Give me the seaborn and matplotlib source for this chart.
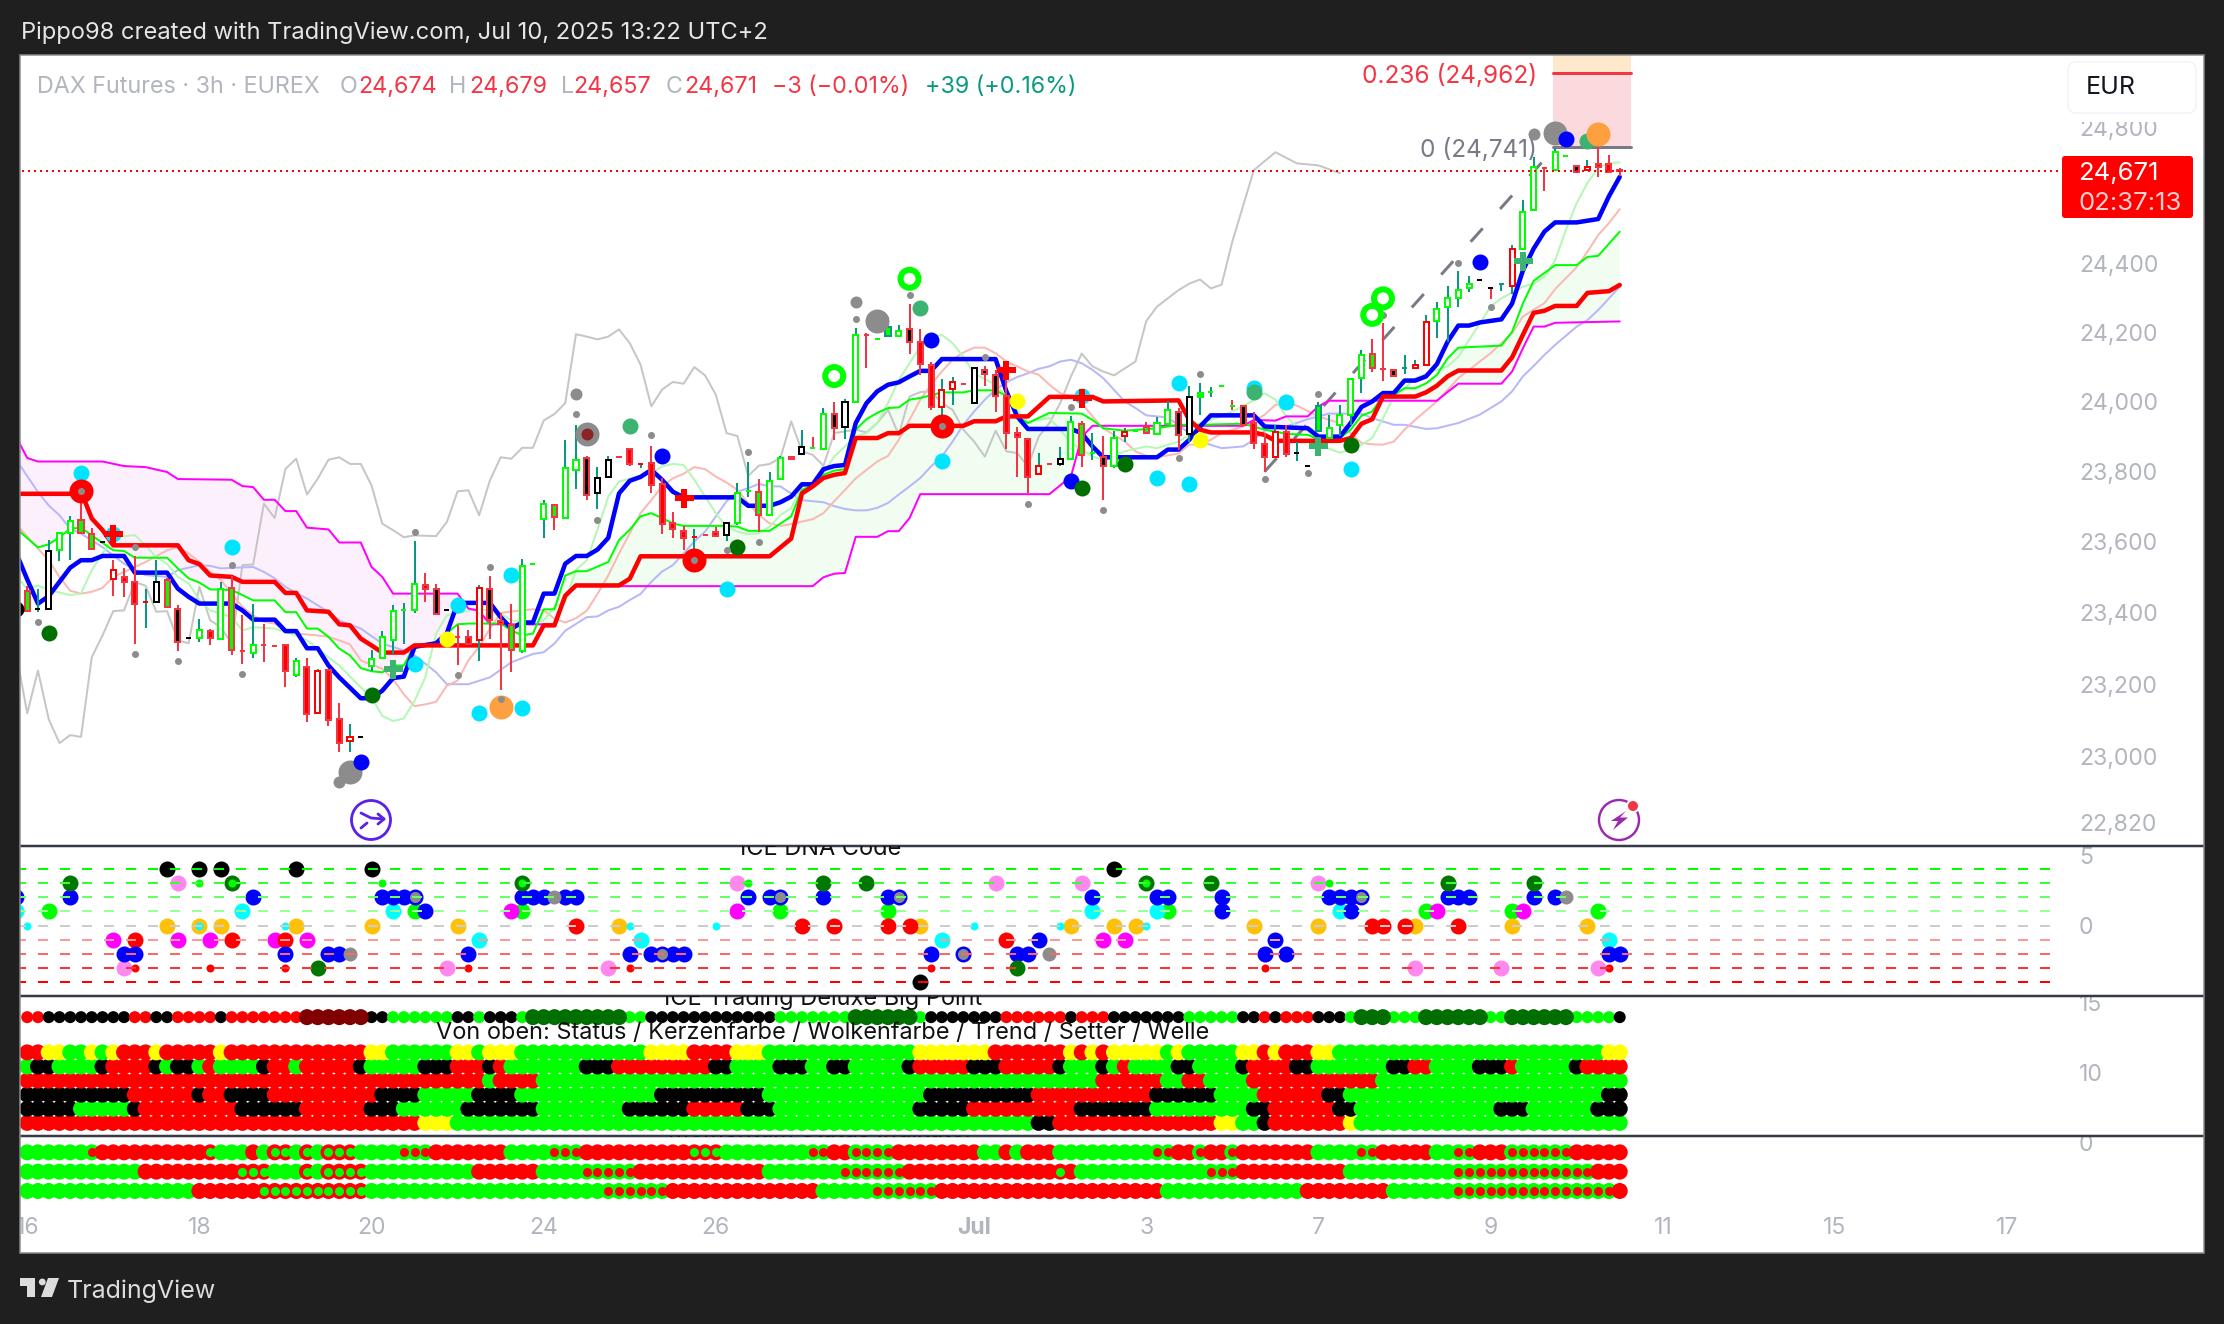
import numpy as np
import pandas as pd
import matplotlib
matplotlib.use("Agg")
import matplotlib.pyplot as plt
import seaborn as sns
from matplotlib.patches import Rectangle, Polygon, Circle, FancyBboxPatch

# Candles, one value per 3h bar
wick_top = [
    23476, 23466, 23606, 23628, 23672, 23741, 23640, 23600, 23548, 23525,
    23559, 23466, 23550, 23497, 23421, 23329, 23384, 23356, 23488, 23503,
    23393, 23426, 23368, 23307, 23310, 23275, 23275, 23244, 23241, 23149,
    23090, 23056, 23295, 23348, 23421, 23429, 23601, 23513, 23480, 23407,
    23365, 23351, 23478, 23503, 23399, 23426, 23552, 23537, 23718, 23708,
    23890, 23933, 23844, 23812, 23844, 23842, 23866, 23821, 23873, 23780,
    23683, 23645, 23635, 23619, 23643, 23654, 23766, 23827, 23777, 23797,
    23845, 23842, 23919, 23897, 23981, 23998, 24007, 24211, 24198, 24180,
    24245, 24220, 24282, 24208, 24115, 24064, 24070, 24051, 24095, 24101,
    24091, 24076, 23926, 23892, 23852, 23821, 23869, 23957, 23943, 23909,
    23901, 23914, 23923, 23916, 23940, 23954, 24000, 23981, 24045, 24053,
    24041, 24045, 24005, 23986, 23969, 23909, 23931, 23931, 23885, 23816,
    23998, 23960, 23990, 24064, 24147, 24180, 24226, 24090, 24134, 24120,
    24250, 24286, 24333, 24377, 24363, 24351, 24328, 24343, 24453, 24587,
    24713, 24679, 24740, 24715, 24686, 24705, 24745, 24720, 24679]
body_top = [
    23462, 23410, 23574, 23625, 23659, 23663, 23621, 23600, 23520, 23501,
    23487, 23430, 23487, 23492, 23412, 23329, 23351, 23350, 23466, 23470,
    23292, 23310, 23309, 23307, 23310, 23266, 23250, 23237, 23241, 23105,
    23056, 23056, 23271, 23333, 23405, 23407, 23480, 23478, 23466, 23407,
    23333, 23333, 23470, 23466, 23377, 23365, 23532, 23537, 23706, 23703,
    23809, 23833, 23837, 23782, 23833, 23842, 23863, 23821, 23825, 23763,
    23652, 23631, 23614, 23619, 23627, 23654, 23739, 23745, 23742, 23773,
    23839, 23842, 23868, 23866, 23963, 23965, 23997, 24192, 24191, 24180,
    24216, 24204, 24208, 24172, 24105, 24033, 24055, 24051, 24095, 24091,
    24075, 24016, 23909, 23892, 23814, 23821, 23835, 23940, 23936, 23851,
    23842, 23896, 23913, 23916, 23928, 23938, 23974, 23970, 24012, 24024,
    24026, 24045, 23988, 23986, 23938, 23877, 23913, 23913, 23853, 23816,
    23986, 23924, 23960, 24064, 24135, 24138, 24092, 24090, 24097, 24106,
    24230, 24267, 24299, 24323, 24339, 24351, 24328, 24340, 24442, 24551,
    24683, 24679, 24727, 24715, 24686, 24683, 24692, 24692, 24674]
body_bot = [
    23404, 23410, 23412, 23576, 23626, 23625, 23581, 23600, 23494, 23488,
    23426, 23430, 23430, 23417, 23318, 23329, 23331, 23329, 23328, 23297,
    23292, 23289, 23309, 23307, 23237, 23227, 23117, 23120, 23101, 23037,
    23043, 23056, 23252, 23274, 23325, 23407, 23409, 23468, 23397, 23407,
    23333, 23314, 23323, 23379, 23368, 23295, 23292, 23537, 23664, 23670,
    23666, 23804, 23734, 23737, 23783, 23842, 23821, 23821, 23761, 23649,
    23635, 23612, 23614, 23619, 23617, 23618, 23654, 23745, 23676, 23675,
    23777, 23835, 23849, 23866, 23863, 23923, 23926, 23999, 24191, 24180,
    24188, 24189, 24171, 24107, 23984, 23985, 24036, 24051, 23995, 24078,
    24016, 23909, 23898, 23785, 23792, 23821, 23820, 23835, 23847, 23851,
    23814, 23814, 23902, 23916, 23909, 23907, 23936, 23904, 23907, 24014,
    24026, 24045, 23988, 23933, 23881, 23842, 23842, 23848, 23853, 23816,
    23914, 23895, 23931, 23962, 24068, 24097, 24092, 24073, 24097, 24095,
    24105, 24231, 24273, 24299, 24327, 24351, 24328, 24340, 24335, 24443,
    24556, 24679, 24674, 24715, 24669, 24673, 24683, 24668, 24671]
wick_bot = [
    23404, 23402, 23412, 23546, 23548, 23625, 23578, 23600, 23447, 23445,
    23312, 23359, 23430, 23415, 23293, 23329, 23318, 23309, 23328, 23281,
    23257, 23274, 23262, 23307, 23192, 23220, 23095, 23117, 23085, 23013,
    23013, 23056, 23239, 23274, 23285, 23312, 23399, 23431, 23395, 23407,
    23254, 23312, 23266, 23328, 23186, 23234, 23288, 23537, 23611, 23633,
    23666, 23750, 23718, 23694, 23783, 23842, 23814, 23809, 23739, 23622,
    23612, 23578, 23576, 23619, 23617, 23602, 23648, 23728, 23629, 23675,
    23777, 23835, 23849, 23866, 23863, 23890, 23893, 23999, 24097, 24180,
    24188, 24189, 24138, 24077, 23976, 23956, 23989, 24051, 23995, 24045,
    23969, 23864, 23785, 23737, 23792, 23821, 23814, 23835, 23811, 23833,
    23718, 23809, 23885, 23916, 23909, 23907, 23936, 23861, 23885, 23961,
    24014, 24045, 23974, 23931, 23865, 23799, 23842, 23842, 23828, 23816,
    23914, 23895, 23900, 23933, 24023, 24085, 24060, 24073, 24079, 24095,
    24105, 24184, 24172, 24274, 24317, 24351, 24296, 24319, 24310, 24443,
    24556, 24611, 24674, 24715, 24669, 24673, 24653, 24666, 24657]
candle_kind = ("lKKGGllKhr" "rRKlkKGrGl" "rGrrrGrRrr" "RKGGGGGrkK" "rrRkrlGGGl"
               "GGkKKrrRrr" "rrRrrKGGlG" "GrKgGkKGrG" "TGkrrRRrKk" "krrrRrKGlG"
               "kGRGlGGkKL" "GGgkrrRrKK" "TGGGGlrkTR" "RGGGGKbTRG" "GrGGkRrrr")

# Indicator lines as (bar, price) vertices
blue_line = [(-1, 23567), (0, 23494), (1, 23426), (2, 23447), (3, 23487), (4, 23527), (5, 23548), (6, 23548),
             (7, 23560), (9, 23560), (10, 23513), (13, 23513), (14, 23468), (15, 23445), (16, 23426), (19, 23426),
             (20, 23407), (21, 23381), (23, 23381), (24, 23349), (25, 23349), (26, 23301), (27, 23301), (28, 23253),
             (29, 23220), (31, 23162), (32, 23162), (33, 23183), (34, 23218), (35, 23222), (36, 23305), (38, 23315),
             (39, 23343), (40, 23428), (43, 23428), (44, 23388), (45, 23356), (46, 23373), (47, 23373), (48, 23454),
             (49, 23454), (50, 23538), (51, 23560), (52, 23560), (53, 23578), (54, 23611), (55, 23737), (56, 23773),
             (57, 23784), (58, 23804), (59, 23776), (60, 23742), (61, 23726), (66, 23726), (67, 23702), (69, 23702),
             (70, 23712), (71, 23728), (72, 23763), (73, 23763), (74, 23806), (75, 23815), (76, 23818), (77, 23938),
             (78, 23995), (79, 24029), (80, 24048), (81, 24055), (82, 24072), (83, 24088), (84, 24088), (85, 24122),
             (90, 24122), (91, 24029), (92, 23957), (93, 23921), (97, 23921), (98, 23909), (99, 23871), (100, 23840),
             (105, 23840), (106, 23862), (107, 23862), (108, 23890), (109, 23928), (110, 23960), (114, 23960),
             (115, 23928), (119, 23923), (120, 23899), (122, 23899), (123, 23938), (124, 23984), (125, 24000),
             (126, 24024), (127, 24024), (128, 24060), (129, 24060), (130, 24072), (131, 24107), (132, 24172),
             (133, 24219), (134, 24219), (135, 24228), (137, 24237), (138, 24283), (139, 24379), (140, 24443),
             (141, 24493), (142, 24520), (144, 24520), (145, 24525), (146, 24530), (147, 24597), (148, 24654)]
red_line = [(-1, 23736), (4, 23736), (5, 23743), (6, 23666), (7, 23633), (8, 23590), (14, 23590), (15, 23548),
            (16, 23537), (17, 23505), (19, 23501), (20, 23487), (23, 23487), (24, 23456), (25, 23456), (26, 23407),
            (28, 23403), (29, 23368), (30, 23365), (31, 23328), (32, 23309), (33, 23289), (35, 23289), (36, 23309),
            (47, 23309), (48, 23365), (49, 23365), (50, 23448), (51, 23477), (55, 23477), (56, 23496), (57, 23559),
            (69, 23559), (71, 23609), (72, 23737), (73, 23757), (74, 23781), (75, 23790), (76, 23795), (77, 23895),
            (79, 23895), (80, 23909), (81, 23909), (82, 23930), (87, 23930), (88, 23943), (90, 23943), (91, 23957),
            (93, 23957), (95, 24013), (99, 24013), (100, 24000), (107, 24003), (108, 23947), (109, 23919),
            (110, 23911), (114, 23911), (115, 23904), (116, 23887), (122, 23887), (123, 23895), (124, 23936),
            (125, 23949), (126, 24014), (129, 24014), (130, 24026), (131, 24045), (132, 24072), (133, 24089),
            (137, 24089), (138, 24127), (139, 24192), (140, 24256), (141, 24262), (142, 24276), (144, 24276),
            (145, 24314), (147, 24319), (148, 24337)]
lime_line = [(-1, 23637), (1, 23584), (2, 23593), (3, 23613), (4, 23637), (5, 23640), (6, 23618), (8, 23576),
             (9, 23574), (10, 23555), (13, 23555), (14, 23525), (15, 23497), (16, 23485), (17, 23466), (19, 23464),
             (20, 23450), (21, 23435), (23, 23435), (24, 23402), (25, 23402), (26, 23356), (27, 23356), (28, 23333),
             (29, 23300), (30, 23281), (31, 23246), (32, 23237), (33, 23234), (34, 23253), (35, 23253), (36, 23309),
             (38, 23315), (39, 23343), (40, 23368), (41, 23370), (44, 23370), (45, 23351), (46, 23337), (47, 23342),
             (48, 23410), (49, 23410), (50, 23505), (51, 23517), (52, 23517), (54, 23543), (55, 23605), (56, 23634),
             (57, 23672), (58, 23681), (59, 23667), (60, 23652), (61, 23645), (65, 23645), (66, 23643), (67, 23631),
             (69, 23631), (71, 23672), (72, 23747), (73, 23761), (74, 23790), (75, 23802), (76, 23806), (77, 23919),
             (78, 23949), (79, 23967), (80, 23981), (81, 23983), (82, 24005), (83, 24010), (85, 24026), (87, 24026),
             (88, 24032), (90, 24032), (91, 24016), (92, 23957), (93, 23938), (95, 23967), (98, 23965), (99, 23947),
             (100, 23923), (102, 23916), (105, 23923), (107, 23933), (109, 23933), (113, 23936), (115, 23919),
             (117, 23907), (119, 23904), (120, 23892), (122, 23895), (123, 23919), (124, 23959), (125, 23971),
             (126, 24016), (127, 24019), (128, 24038), (129, 24038), (130, 24052), (131, 24076), (132, 24124),
             (133, 24155), (137, 24161), (138, 24201), (139, 24283), (140, 24349), (142, 24395), (144, 24395),
             (145, 24419), (146, 24422), (148, 24493)]
magenta_line = [(-1, 23897), (0, 23838), (1, 23828), (7, 23828), (9, 23815), (11, 23812), (13, 23798), (14, 23778),
                (19, 23776), (20, 23758), (21, 23755), (22, 23719), (23, 23719), (24, 23687), (25, 23687), (26, 23640),
                (28, 23635), (29, 23598), (31, 23598), (32, 23529), (33, 23501), (34, 23454), (40, 23454), (41, 23412),
                (42, 23406), (43, 23368), (49, 23368), (50, 23450), (51, 23475), (73, 23475), (74, 23500), (75, 23510),
                (76, 23512), (77, 23614), (79, 23614), (80, 23630), (81, 23630), (82, 23667), (83, 23735), (95, 23735),
                (97, 23785), (98, 23898), (99, 23930), (113, 23930), (114, 23947), (116, 23945), (117, 23957),
                (119, 23957), (120, 23986), (121, 24002), (131, 24002), (132, 24027), (133, 24051), (137, 24051),
                (138, 24086), (139, 24153), (140, 24216), (141, 24216), (142, 24227), (148, 24231)]
faded_lime = [(-1, 23501), (0, 23468), (1, 23477), (2, 23464), (4, 23450), (5, 23454), (6, 23520), (7, 23567),
              (8, 23612), (10, 23619), (11, 23590), (12, 23557), (13, 23538), (14, 23501), (15, 23483), (16, 23436),
              (17, 23407), (19, 23388), (20, 23351), (21, 23360), (23, 23356), (25, 23337), (26, 23323), (28, 23276),
              (29, 23253), (31, 23192), (32, 23165), (33, 23113), (34, 23099), (35, 23106), (36, 23155), (37, 23220),
              (38, 23342), (39, 23393), (42, 23412), (44, 23398), (45, 23379), (47, 23365), (48, 23379), (49, 23417),
              (50, 23430), (51, 23520), (52, 23548), (53, 23634), (54, 23728), (55, 23771), (58, 23795), (59, 23814),
              (60, 23821), (61, 23818), (62, 23776), (63, 23728), (64, 23681), (65, 23643), (66, 23629), (67, 23622),
              (68, 23624), (69, 23643), (70, 23676), (71, 23695), (72, 23757), (73, 23766), (74, 23795), (75, 23842),
              (76, 23871), (77, 23899), (78, 23909), (79, 23938), (80, 23995), (81, 24062), (82, 24110), (83, 24158),
              (84, 24185), (85, 24192), (86, 24168), (87, 24129), (88, 24081), (90, 24048), (91, 24014), (92, 23976),
              (93, 23941), (95, 23952), (96, 23919), (97, 23881), (98, 23862), (99, 23842), (100, 23833), (102, 23857),
              (104, 23871), (105, 23866), (107, 23885), (108, 23904), (109, 23938), (111, 23957), (113, 23986),
              (115, 24023), (116, 24005), (117, 23957), (118, 23928), (119, 23919), (120, 23876), (122, 23853),
              (123, 23862), (124, 23876), (125, 23895), (126, 23952), (127, 24014), (128, 24038), (129, 24067),
              (131, 24091), (132, 24101), (133, 24129), (134, 24177), (135, 24225), (136, 24274), (137, 24298),
              (139, 24332), (140, 24340), (141, 24361), (142, 24409), (143, 24498), (144, 24577), (145, 24636),
              (146, 24681), (147, 24695), (148, 24697)]
faded_red = [(-1, 23649), (1, 23581), (2, 23548), (3, 23501), (4, 23462), (5, 23454), (6, 23459), (7, 23470),
             (8, 23501), (9, 23515), (10, 23529), (11, 23543), (13, 23576), (14, 23585), (15, 23567), (16, 23543),
             (17, 23515), (18, 23492), (19, 23454), (20, 23417), (21, 23393), (22, 23375), (23, 23370), (24, 23351),
             (25, 23342), (27, 23337), (28, 23333), (29, 23323), (30, 23312), (31, 23267), (33, 23244), (34, 23215),
             (35, 23173), (36, 23140), (37, 23145), (38, 23152), (39, 23197), (40, 23211), (41, 23267), (42, 23305),
             (43, 23356), (44, 23400), (46, 23407), (47, 23410), (48, 23407), (49, 23384), (50, 23373), (51, 23385),
             (52, 23406), (53, 23453), (54, 23505), (55, 23567), (56, 23624), (57, 23681), (58, 23718), (59, 23757),
             (60, 23780), (61, 23793), (62, 23812), (63, 23806), (64, 23785), (65, 23768), (66, 23747), (67, 23709),
             (68, 23676), (69, 23652), (70, 23645), (71, 23650), (73, 23664), (74, 23681), (75, 23715), (76, 23747),
             (77, 23780), (78, 23804), (79, 23828), (80, 23844), (81, 23890), (82, 23947), (83, 24005), (84, 24048),
             (85, 24086), (86, 24120), (87, 24141), (88, 24155), (89, 24155), (90, 24139), (91, 24115), (92, 24101),
             (93, 24086), (94, 24077), (95, 24048), (96, 24024), (97, 24014), (98, 23995), (99, 23957), (100, 23923),
             (102, 23885), (103, 23857), (104, 23844), (105, 23840), (107, 23851), (108, 23876), (109, 23876),
             (110, 23890), (111, 23909), (113, 23928), (114, 23943), (115, 23962), (116, 23990), (117, 23995),
             (118, 23988), (120, 23957), (121, 23947), (122, 23938), (123, 23909), (124, 23881), (125, 23877),
             (126, 23876), (127, 23885), (128, 23919), (129, 23947), (131, 24000), (132, 24033), (133, 24067),
             (135, 24115), (136, 24139), (138, 24197), (139, 24245), (140, 24265), (141, 24284), (142, 24325),
             (144, 24389), (145, 24434), (146, 24483), (147, 24518), (148, 24559)]
faded_blue = [(-1, 23832), (1, 23741), (2, 23703), (3, 23675), (4, 23637), (5, 23623), (7, 23585), (9, 23538),
              (11, 23506), (13, 23501), (14, 23520), (16, 23534), (17, 23532), (18, 23525), (21, 23529), (22, 23515),
              (23, 23497), (24, 23473), (25, 23456), (26, 23440), (27, 23421), (28, 23403), (29, 23379), (31, 23356),
              (33, 23314), (35, 23295), (36, 23281), (37, 23258), (38, 23234), (39, 23201), (41, 23201), (43, 23220),
              (45, 23262), (47, 23285), (48, 23290), (49, 23314), (50, 23350), (51, 23369), (52, 23388), (53, 23390),
              (54, 23407), (55, 23417), (56, 23436), (57, 23453), (58, 23487), (59, 23516), (60, 23534), (62, 23601),
              (63, 23629), (64, 23672), (65, 23715), (66, 23742), (67, 23752), (68, 23764), (69, 23757), (70, 23757),
              (71, 23737), (72, 23718), (73, 23715), (74, 23712), (75, 23701), (76, 23693), (77, 23689), (78, 23689),
              (79, 23696), (80, 23710), (81, 23734), (82, 23757), (83, 23781), (84, 23814), (85, 23842), (86, 23885),
              (87, 23933), (88, 23971), (89, 24005), (90, 24034), (91, 24055), (92, 24070), (93, 24081), (94, 24094),
              (95, 24101), (96, 24115), (97, 24120), (98, 24110), (99, 24091), (100, 24067), (102, 24000), (103, 23981),
              (104, 23960), (106, 23954), (108, 23909), (109, 23885), (111, 23866), (113, 23871), (114, 23890),
              (115, 23916), (117, 23928), (119, 23949), (121, 23965), (124, 23965), (125, 23952), (127, 23933),
              (128, 23933), (130, 23921), (131, 23923), (133, 23938), (135, 23962), (137, 24000), (138, 24029),
              (139, 24072), (140, 24102), (141, 24134), (142, 24163), (144, 24216), (145, 24235), (146, 24264),
              (148, 24332)]
gray_line = [(-1, 23285), (0, 23120), (1, 23239), (2, 23104), (3, 23038), (4, 23060), (5, 23055), (6, 23276),
             (7, 23337), (8, 23405), (9, 23407), (10, 23487), (11, 23476), (12, 23403), (13, 23405), (14, 23323),
             (15, 23315), (16, 23473), (17, 23379), (18, 23360), (19, 23314), (20, 23534), (21, 23536), (22, 23708),
             (23, 23667), (24, 23807), (25, 23836), (26, 23734), (27, 23779), (28, 23833), (29, 23840), (30, 23821),
             (31, 23821), (32, 23760), (33, 23651), (34, 23633), (35, 23613), (36, 23618), (38, 23616), (39, 23656),
             (40, 23743), (41, 23746), (42, 23675), (43, 23774), (44, 23840), (45, 23836), (46, 23867), (47, 23867),
             (48, 23945), (49, 23964), (50, 23995), (51, 24194), (52, 24187), (53, 24179), (54, 24187), (55, 24208),
             (56, 24168), (57, 24106), (58, 23986), (59, 24034), (60, 24056), (61, 24051), (62, 24099), (63, 24075),
             (64, 24019), (65, 23909), (66, 23901), (67, 23787), (68, 23816), (69, 23821), (70, 23838), (71, 23943),
             (72, 23857), (73, 23847), (74, 23816), (75, 23909), (76, 23914), (77, 23919), (78, 23911), (79, 23938),
             (80, 23976), (81, 23904), (82, 24014), (83, 24027), (84, 24029), (85, 23995), (86, 23976), (87, 23919),
             (88, 23885), (89, 23842), (90, 23916), (91, 23857), (92, 23852), (93, 23814), (94, 23899), (95, 23938),
             (96, 23995), (97, 24072), (98, 24138), (99, 24101), (100, 24086), (101, 24075), (102, 24095), (103, 24115),
             (104, 24232), (105, 24274), (107, 24322), (108, 24341), (109, 24353), (110, 24327), (111, 24338),
             (112, 24464), (114, 24674), (116, 24727), (118, 24694), (120, 24688), (122, 24665)]
fib_trend = [(115, 23799), (142, 24741)]

# Signal dots on the price pane
cyan_dots = [(5, 23795), (19, 23584), (36, 23258), (40, 23422), (45, 23506), (42, 23122), (46, 23135), (8, 23622),
             (65, 23467), (85, 23828), (98, 24015), (107, 24052), (105, 23782), (108, 23765), (114, 24040),
             (117, 23999), (123, 23808)]
small_gray = [(1, 23374), (10, 23586), (10, 23284), (19, 23534), (14, 23266), (20, 23228), (36, 23629), (40, 23226),
              (43, 23530), (44, 23159), (51, 23964), (53, 23663), (58, 23903), (67, 23854), (65, 23577), (68, 23600),
              (77, 24238), (82, 24308), (89, 24128), (93, 23706), (97, 23984), (100, 23690), (109, 24079), (107, 23838),
              (115, 23777), (119, 23795), (120, 24022), (126, 24250), (133, 24401), (136, 24273),
              (5, 23743), (62, 23548), (85, 23930)]
mid_gray = [(51, 24021), (77, 24288), (29, 22932), (140, 24782)]
big_gray = [(30, 22958), (79, 24233), (52, 23907), (142, 24784)]
dark_red = [(52, 23907)]
dark_green = [(2, 23344), (32, 23171), (66, 23586), (98, 23752), (102, 23821), (123, 23874)]
black_dots = [(-1, 23412)]
sea_green = [(56, 23930), (83, 24271), (114, 24028), (145, 24760)]
blue_dots = [(31, 22986), (59, 23843), (84, 24178), (97, 23771), (135, 24404), (143, 24765)]
yellow_dots = [(39, 23328), (92, 24000), (109, 23890)]
orange_dots = [(44, 23139), (146, 24781)]
red_big = [(5, 23743), (62, 23548), (85, 23930)]
red_cross = [(8, 23622), (61, 23725), (91, 24091), (98, 24010)]
green_cross = [(34, 23242), (120, 23872), (139, 24407)]
lime_rings = [(75, 24073), (82, 24355), (125, 24250), (126, 24298)]

fib_levels = [24741, 24962]
last_price = 24671
price_ticks = [24800, 24400, 24200, 24000, 23800, 23600, 23400, 23200, 23000, 22820]
price_labels = ["24,800", "24,400", "24,200", "24,000", "23,800", "23,600", "23,400", "23,200", "23,000", "22,820"]
date_bars = [0, 16, 32, 48, 64, 88, 104, 120, 136, 152, 168, 184]
date_labels = ["16", "18", "20", "24", "26", "Jul", "3", "7", "9", "11", "15", "17"]

# ICE DNA Code pane, (bar, level)
dna_levels = [4, 3, 2, 1, 0, -1, -2, -3, -4]
dna_level_colors = ["#00ff00", "#33ff33", "#66ff66", "#99ff99", "#cccccc", "#ff9999", "#ff6666", "#ff3333", "#ff0000"]
dna_pink = [(14, 3), (66, 3), (90, 3), (98, 3), (120, 3), (9, -3), (39, -3), (54, -3), (129, -3), (137, -3), (146, -3)]
dna_lime = [(2, 1), (36, 1), (46, 1), (70, 1), (80, 1), (106, 1), (130, 1), (138, 1), (146, 1)]
dna_cyan = [(-1, 1), (20, 1), (34, 1), (99, 1), (105, 1), (122, 1), (42, -1), (57, -1), (85, -1), (147, -1)]
dna_magenta = [(45, 1), (66, 1), (131, 1), (139, 1), (8, -1), (14, -1), (17, -1), (23, -1), (26, -1), (100, -1), (102, -1)]
dna_amber = [(13, 0), (16, 0), (18, 0), (25, 0), (32, 0), (40, 0), (55, 0), (83, 0), (97, 0), (101, 0), (103, 0),
             (114, 0), (120, 0), (129, 0), (138, 0), (145, 0)]
dna_red = [(51, 0), (72, 0), (75, 0), (80, 0), (82, 0), (125, 0), (126, 0), (128, 0), (133, 0),
           (10, -1), (19, -1), (24, -1), (91, -1)]
dna_blue = [(-1, 2), (4, 2), (21, 2), (33, 2), (34, 2), (35, 2), (36, 2), (46, 2), (47, 2), (48, 2), (50, 2), (51, 2),
            (67, 2), (69, 2), (70, 2), (74, 2), (80, 2), (81, 2), (99, 2), (105, 2), (106, 2), (111, 2), (121, 2),
            (122, 2), (123, 2), (124, 2), (132, 2), (133, 2), (134, 2), (140, 2), (142, 2),
            (37, 1), (111, 1), (123, 1), (94, -1), (116, -1),
            (9, -2), (10, -2), (24, -2), (28, -2), (29, -2), (41, -2), (56, -2), (58, -2), (59, -2), (60, -2), (61, -2),
            (84, -2), (87, -2), (92, -2), (93, -2), (115, -2), (117, -2), (147, -2), (148, -2)]
dna_dark_green = [(4, 3), (19, 3), (46, 3), (74, 3), (78, 3), (104, 3), (110, 3), (132, 3), (140, 3), (27, -3), (92, -3)]
dna_gray = [(49, 2), (143, 2), (30, -2), (95, -2)]
dna_gray_center = [(36, 2), (70, 2), (81, 2), (124, 2), (59, -2), (87, -2)]
dna_black = [(13, 4), (16, 4), (18, 4), (25, 4), (32, 4), (101, 4), (83, -4)]
dna_small_lime = [(16, 3), (19, 3), (33, 3), (46, 3), (67, 3), (104, 3), (121, 3)]
dna_small_cyan = [(0, 0), (16, 0), (24, 0), (56, 0), (64, 0), (88, 0), (96, 0), (104, 0)]
dna_small_red = [(10, -3), (17, -3), (24, -3), (41, -3), (56, -3), (84, -3), (115, -3), (147, -3)]

# ICE Trading Deluxe pane, state runs over the bars
big_point_states = ["R", "K", "R", "K", "R", "K", "R", "D", "K", "L", "K", "L", "K", "L", "G", "L", "K", "L", "G", "L",
                    "K", "R", "K", "R", "K", "L", "K", "R", "K", "R", "K", "L", "G", "L", "G", "L", "G", "L", "K"]
big_point_runs = [2, 8, 2, 2, 4, 1, 7, 6, 2, 6, 2, 1, 3, 1, 9, 2, 12, 7, 6, 1,
                  7, 6, 1, 3, 7, 5, 2, 1, 1, 3, 3, 1, 3, 3, 6, 2, 6, 4, 1]
status_states = ["R", "Y", "L", "Y", "L", "Y", "R", "Y", "R", "Y", "R", "Y", "L", "Y", "L", "Y", "L", "Y", "R", "Y", "L",
                 "Y", "R", "Y", "R", "Y", "R", "Y", "L", "Y", "L", "Y", "R", "Y", "R", "Y", "L", "Y"]
status_runs = [2, 2, 2, 1, 1, 1, 3, 1, 5, 1, 13, 2, 6, 2, 1, 3, 12, 4, 4, 3, 14,
               7, 7, 1, 1, 1, 1, 5, 1, 1, 5, 2, 1, 1, 3, 2, 25, 2]
candle_color_states = ["L", "K", "L", "K", "R", "K", "L", "K", "L", "R", "L", "K", "R", "L", "R", "K", "L", "K",
                       "R", "K", "R", "L", "K", "R", "K", "L", "K", "L", "K", "L", "K", "R", "K", "R", "K", "L",
                       "K", "L", "R", "L", "K", "L", "K", "R", "K", "L", "K", "R", "L", "K", "R", "L", "K", "R"]
candle_color_runs = [1, 2, 4, 1, 4, 1, 1, 2, 1, 1, 4, 1, 2, 1, 5, 1, 5, 3,
                     3, 1, 1, 7, 3, 9, 2, 4, 3, 2, 2, 5, 1, 5, 3, 5, 1, 3,
                     1, 1, 1, 4, 2, 4, 1, 4, 2, 7, 2, 2, 4, 3, 1, 5, 1, 4]
cloud_states = ["R", "L", "R", "L", "R", "L", "R", "L", "R", "L"]
cloud_runs = [43, 1, 4, 52, 6, 2, 2, 4, 12, 23]
trend_states = ["K", "R", "K", "R", "K", "R", "K", "L", "K", "L", "K", "L", "K", "R", "K", "L", "R", "K", "L", "K"]
trend_runs = [10, 6, 1, 2, 4, 10, 4, 5, 4, 13, 10, 15, 10, 11, 6, 4, 6, 2, 24, 2]
setter_states = ["K", "L", "K", "R", "K", "R", "K", "L", "K", "L", "K", "R", "K", "L", "K", "R", "K", "L", "K", "R",
                 "K", "L", "K", "L", "K"]
setter_runs = [5, 5, 1, 9, 6, 6, 3, 6, 7, 8, 6, 5, 3, 13, 5, 10, 7, 9, 2, 6, 2, 13, 3, 6, 3]
wave_states = ["R", "Y", "L", "K", "R", "Y", "L", "K", "R", "Y", "L"]
wave_runs = [37, 3, 54, 2, 15, 2, 2, 1, 7, 1, 25]

# Momentum Status pane: x = lime with small red dot, y = red with small lime dot
momentum1_states = ["L", "x", "R", "y", "L", "R", "L", "y", "L", "y", "L", "y", "L", "x", "R", "L", "x", "R", "y", "L",
                    "x", "R", "x", "R", "L", "R", "L", "R", "L", "x", "R", "x", "R", "x", "R", "L", "x", "R", "L", "x",
                    "R", "x", "R"]
momentum1_runs = [6, 1, 10, 1, 3, 1, 1, 2, 1, 1, 1, 3, 4, 3, 7, 4, 3, 10, 3, 8,
                  2, 2, 4, 8, 2, 1, 1, 3, 9, 2, 2, 1, 2, 1, 7, 4, 2, 5, 2, 2,
                  3, 6, 5]
momentum2_states = ["L", "R", "y", "L", "y", "L", "y", "L", "R", "L", "x", "R", "L", "x", "R", "y", "R", "L", "x", "R",
                    "L", "x", "R"]
momentum2_runs = [11, 9, 3, 3, 1, 1, 4, 10, 6, 4, 5, 12, 7, 6, 14, 1, 1, 12, 3, 10, 10, 13, 3]
momentum3_states = ["L", "R", "y", "L", "x", "R", "L", "x", "R", "L", "R", "L", "x", "R"]
momentum3_runs = [16, 6, 10, 22, 6, 14, 5, 6, 21, 13, 8, 6, 15, 1]

# ---------------------------------------------------------------------------
PX = 0.72  # one pixel in points at dpi 100
FONT = ["Inter", "DejaVu Sans"]
GRAY_TEXT = "#b2b5be"
WIDTH, HEIGHT = 2224, 1324
XLIM = (-0.669, 202.3)  # bar 0 sits at x=27.2px, 10.76px per bar

sns.set_theme(style="white")
plt.rcParams["font.family"] = FONT

fig = plt.figure(figsize=(WIDTH / 100, HEIGHT / 100), dpi=100, facecolor="#1f1f1f")


def pane(top, bottom, ymin, ymax):
    ax = fig.add_axes([20 / WIDTH, 1 - bottom / HEIGHT, 2184 / WIDTH, (bottom - top) / HEIGHT], facecolor="white")
    ax.set_xlim(*XLIM)
    ax.set_ylim(ymin, ymax)
    return ax


def draw_line(ax, points, color, width, z, **kws):
    bars, prices = zip(*points)
    sns.lineplot(x=list(bars), y=list(prices), color=color, linewidth=width * PX, zorder=z, ax=ax,
                 estimator=None, sort=False, legend=False, **kws)


def draw_dots(ax, points, color, size, z, marker="o"):
    bars, values = zip(*points)
    sns.scatterplot(x=list(bars), y=list(values), color=color, s=(size * PX) ** 2, marker=marker,
                    linewidth=0, zorder=z, ax=ax, legend=False)


main = pane(55, 846, 22755.8, 25016.5)
main.set_yscale("log")

# cloud between the thin lime line and the magenta line
grid = np.arange(-1, 148.01, 0.1)
cloud_lime = np.interp(grid, *zip(*lime_line))
cloud_magenta = np.interp(grid, *zip(*magenta_line))
main.fill_between(grid, cloud_lime, cloud_magenta, where=cloud_magenta >= cloud_lime, color="#fdf0fd", lw=0, zorder=1,
                  interpolate=True)
main.fill_between(grid, cloud_lime, cloud_magenta, where=cloud_magenta < cloud_lime, color="#f1fdf1", lw=0, zorder=1,
                  interpolate=True)

# fib box behind everything
fib_x = [141.8, 149.05]
main.fill_between(fib_x, fib_levels[1], 25100, color="#ffe8cc", lw=0, zorder=1)
main.fill_between(fib_x, fib_levels[0], fib_levels[1], color="#fcd9dc", lw=0, zorder=1)
draw_line(main, [(fib_x[0], fib_levels[0]), (fib_x[1], fib_levels[0])], "#787b86", 3, 3)
draw_line(main, [(fib_x[0], fib_levels[1]), (fib_x[1], fib_levels[1])], "#f23645", 3, 3)
main.annotate("0.236 (24,962)", (140.3, fib_levels[1]), xytext=(0, -3 * PX), textcoords="offset points",
              color="#f23645", ha="right", va="center", fontsize=24.4 * PX)
main.annotate("0 (24,741)", (140.3, fib_levels[0]), xytext=(0, -3 * PX), textcoords="offset points",
              color="#787b86", ha="right", va="center", fontsize=24.4 * PX)
draw_line(main, fib_trend, "#787b86", 3, 3, linestyle=(0, (6, 8.7)))

draw_line(main, gray_line, "#c6c6c6", 2, 2)
draw_line(main, faded_blue, "#b8b8f8", 2, 2)
draw_line(main, faded_red, "#f9b9b4", 2, 2)
draw_line(main, faded_lime, "#b5f7b5", 2, 2)
draw_line(main, magenta_line, "#ff00ff", 2, 3)
draw_line(main, lime_line, "#00ff00", 2, 3)
draw_line(main, blue_line, "#0000ff", 4.5, 4)
draw_line(main, red_line, "#ff0000", 4.5, 4)

# candles: border, fill, wick for each kind of bar
border = {"G": "#00ff00", "L": "#00ff00", "R": "#ff0000", "h": "#ff0000", "K": "#000000", "b": "#000000",
          "g": "#00ff00", "r": "#f23645", "l": "#f23645", "k": "#f23645", "T": "#089981"}
fill = {"G": "#ffffff", "L": "#00ff00", "R": "#ffffff", "h": "#ffffff", "K": "#ffffff", "b": "#ffffff",
        "g": "#ffffff", "r": "#ff0000", "l": "#00ff00", "k": "#000000", "T": "#00ff00"}
wick = {"G": "#089981", "L": "#089981", "R": "#089981", "h": "#f23645", "K": "#089981", "b": "#f23645",
        "g": "#f23645", "r": "#f23645", "l": "#f23645", "k": "#f23645", "T": "#089981"}
bar_index = np.arange(len(wick_top))
main.vlines(bar_index, wick_bot, wick_top, colors=[wick[k] for k in candle_kind], linewidth=2 * PX, zorder=5)
main.bar(bar_index, np.array(body_top) - np.array(body_bot), bottom=body_bot, width=0.47,
         color=[fill[k] for k in candle_kind], edgecolor=[border[k] for k in candle_kind], linewidth=2 * PX, zorder=5.5)

draw_line(main, [(-1, last_price), (188.7, last_price)], "#ff0000", 2, 6, linestyle=(0, (1, 2)))

draw_dots(main, cyan_dots, "#00e5ff", 16, 6)
draw_dots(main, sea_green, "#3cb371", 16, 6)
draw_dots(main, yellow_dots, "#ffff00", 16, 6)
draw_dots(main, big_gray, "#8c8c8c", 24, 6.1)
draw_dots(main, dark_red, "#8b2525", 12, 6.2)
draw_dots(main, mid_gray, "#8c8c8c", 12, 6.2)
draw_dots(main, blue_dots, "#0000ff", 16, 6.3)
draw_dots(main, dark_green, "#006f00", 16, 6.3)
draw_dots(main, black_dots, "#000000", 16, 6.3)
draw_dots(main, orange_dots, "#ffa040", 24, 6.4)
draw_dots(main, red_big, "#ff0000", 24, 6.5)
draw_dots(main, small_gray, "#8c8c8c", 7, 6.6)
draw_dots(main, red_cross, "#ff0000", 19, 6.7, marker="P")
draw_dots(main, green_cross, "#3cb371", 19, 6.7, marker="P")
ring_bars, ring_prices = zip(*lime_rings)
main.scatter(ring_bars, ring_prices, s=(18 * PX) ** 2, facecolors="none", edgecolors="#00ff00", linewidths=6 * PX,
             zorder=6.7)

main.set_yticks(price_ticks, price_labels)
main.minorticks_off()
main.set_ylim(22755.8, 25016.5)
main.set_xlim(*XLIM)

# DNA pane
dna = pane(846, 996, -5, 5.64)
for level, color in zip(dna_levels, dna_level_colors):
    draw_line(dna, [(-1, level), (188.5, level)], color, 2, 5, linestyle=(0, (5, 6)))
draw_dots(dna, dna_pink, "#ff88ee", 16, 3)
draw_dots(dna, dna_lime, "#00ff00", 16, 3)
draw_dots(dna, dna_cyan, "#00ffff", 16, 3)
draw_dots(dna, dna_magenta, "#ff00ff", 16, 3.1)
draw_dots(dna, dna_amber, "#ffc107", 16, 3.1)
draw_dots(dna, dna_red, "#ff0000", 16, 3.2)
draw_dots(dna, dna_blue, "#0000ff", 16, 3.3)
draw_dots(dna, dna_dark_green, "#007800", 16, 3.3)
draw_dots(dna, dna_gray, "#8c8c8c", 14, 3.4)
draw_dots(dna, dna_gray_center, "#8c8c8c", 11, 3.4)
draw_dots(dna, dna_black, "#000000", 16, 3.4)
draw_dots(dna, dna_small_lime, "#00ff00", 8, 3.5)
draw_dots(dna, dna_small_cyan, "#00ffff", 8, 3.5)
draw_dots(dna, dna_small_red, "#ff0000", 8, 3.5)
dna.set_yticks([5, 0], ["5", "0"])
dna.set_xlim(*XLIM)
dna.set_ylim(-5, 5.64)
dna.text(0.3668, 0.98, "ICE DNA Code", transform=dna.transAxes, ha="center", va="center", color="#111111",
         fontsize=23.5 * PX, clip_on=True)

# Status pane
palette = {"R": "#ff0000", "L": "#00ff00", "K": "#000000", "Y": "#ffff00", "D": "#800000", "G": "#006f00"}
status = pane(996, 1136, 5.5, 15.43)
big_point = pd.DataFrame({"bar": bar_index, "row": 13.93, "state": np.repeat(big_point_states, big_point_runs)})
thin = big_point[~big_point["state"].isin(["D", "G"])]
thick = big_point[big_point["state"].isin(["D", "G"])]
sns.scatterplot(data=thin, x="bar", y="row", hue="state", palette=palette, s=(12 * PX) ** 2, linewidth=0,
                legend=False, ax=status, zorder=3)
sns.scatterplot(data=thick, x="bar", y="row", hue="state", palette=palette, s=(16 * PX) ** 2, linewidth=0,
                legend=False, ax=status, zorder=3)
# the upper rows lie over the lower ones, so the list runs bottom to top
status_rows = [
    (6.43, wave_states, wave_runs),
    (7.43, setter_states, setter_runs),
    (8.43, trend_states, trend_runs),
    (9.43, cloud_states, cloud_runs),
    (10.43, candle_color_states, candle_color_runs),
    (11.43, status_states, status_runs),
]
rows = []
for row, states, runs in status_rows:
    rows.append(pd.DataFrame({"bar": bar_index, "row": row, "state": np.repeat(states, runs)}))
status_df = pd.concat(rows)
sns.scatterplot(data=status_df, x="bar", y="row", hue="state", palette=palette, s=(16 * PX) ** 2, linewidth=0,
                legend=False, ax=status, zorder=3)
status.set_yticks([15, 10], ["15", "10"])
status.set_xlim(*XLIM)
status.set_ylim(5.5, 15.43)
status.text(0.3677, (1136 - 999) / 140, "ICE Trading Deluxe Big Point", transform=status.transAxes, ha="center",
            va="center", color="#111111", fontsize=23.5 * PX, clip_on=True)
status.text(0.3677, (1136 - 1033) / 140, "Von oben: Status / Kerzenfarbe / Wolkenfarbe / Trend / Setter / Welle",
            transform=status.transAxes, ha="center", va="center", color="#111111", fontsize=23.5 * PX, clip_on=True)

# Momentum pane
momentum = pane(1136, 1253, -5.74, 0.316)
rows = []
for row, states, runs in [(-0.53, momentum1_states, momentum1_runs), (-1.53, momentum2_states, momentum2_runs),
                          (-2.53, momentum3_states, momentum3_runs)]:
    rows.append(pd.DataFrame({"bar": bar_index, "row": row, "state": np.repeat(states, runs)}))
momentum_df = pd.concat(rows)
momentum_df["big"] = momentum_df["state"].map({"L": "L", "x": "L", "R": "R", "y": "R"})
sns.scatterplot(data=momentum_df, x="bar", y="row", hue="big", palette=palette, s=(16 * PX) ** 2, linewidth=0,
                legend=False, ax=momentum, zorder=3)
for state, color in [("x", "#ff0000"), ("y", "#00ff00")]:
    inner = momentum_df[momentum_df["state"] == state]
    sns.scatterplot(data=inner, x="bar", y="row", color=color, s=(9 * PX) ** 2, linewidth=0, legend=False,
                    ax=momentum, zorder=4)
momentum.set_yticks([0], ["0"])
momentum.set_xticks(date_bars, date_labels)
momentum.set_xlim(*XLIM)
momentum.set_ylim(-5.74, 0.316)
momentum.text(0.3668, (1253 - 1131) / 117, "Momentum Status Indikator", transform=momentum.transAxes, ha="center",
              va="center", color="#111111", fontsize=23.5 * PX, clip_on=True)
for label in momentum.get_xticklabels():
    if label.get_text() == "Jul":
        label.set_fontweight("bold")

# shared axis cosmetics
for ax in [main, dna, status, momentum]:
    for side in ["left", "right", "bottom", "top"]:
        ax.spines[side].set_visible(False)
    ax.set_xlabel("")
    ax.set_ylabel("")
    ax.yaxis.tick_right()
    ax.tick_params(axis="y", length=0, pad=-125 * PX, labelsize=23 * PX, labelcolor=GRAY_TEXT)
    ax.tick_params(axis="x", length=0, pad=-36 * PX, labelsize=23 * PX, labelcolor=GRAY_TEXT)
    if ax is not momentum:
        ax.set_xticks([])
    if ax is not main:
        ax.spines["top"].set_visible(True)
        ax.spines["top"].set_color("#363a45")
        ax.spines["top"].set_linewidth(2.5 * PX)
    for label in ax.get_yticklabels() + ax.get_xticklabels():
        label.set_clip_box(ax.bbox)
        label.set_clip_on(True)

# page chrome in pixel coordinates
top = fig.add_axes([0, 0, 1, 1], zorder=10)
top.set_xlim(0, WIDTH)
top.set_ylim(HEIGHT, 0)
top.axis("off")
top.add_patch(Rectangle((19.5, 54.5), 2184.5, 1198.5, fill=False, edgecolor="#8a8a8a", linewidth=1.5 * PX))

top.text(21, 33, "Pippo98 created with TradingView.com, Jul 10, 2025 13:22 UTC+2", color="#e6e6e6",
         va="center", fontsize=23.7 * PX)

# legend row
legend_row = [(37, "DAX Futures · 3h · EUREX", GRAY_TEXT), (340, "O", GRAY_TEXT), (358, "24,674", "#f23645"),
              (449, "H", GRAY_TEXT), (469, "24,679", "#f23645"), (561, "L", GRAY_TEXT), (573, "24,657", "#f23645"),
              (666, "C", GRAY_TEXT), (684, "24,671", "#f23645"), (772, "−3 (−0.01%)", "#f23645"),
              (925, "+39 (+0.16%)", "#089981")]
for x, label, color in legend_row:
    top.text(x, 87, label, color=color, va="center", fontsize=23.3 * PX)

# currency box covers the top price label
top.add_patch(Rectangle((2068, 80), 128, 42, facecolor="white", edgecolor="none"))
top.add_patch(FancyBboxPatch((2072, 66), 120, 43, boxstyle="round,pad=4,rounding_size=8", facecolor="white",
                             edgecolor="#f0f3fa", linewidth=1.5 * PX))
top.text(2086, 88, "EUR", color="#131722", va="center", fontsize=25 * PX)

# last price tag
top.add_patch(FancyBboxPatch((2064, 158), 127, 58, boxstyle="round,pad=2,rounding_size=3", facecolor="#ff0000",
                             edgecolor="none"))
top.text(2078, 174, "24,671", color="white", va="center", fontsize=25.7 * PX)
top.text(2078, 203, "02:37:13", color="#ffd0d0", va="center", fontsize=25.7 * PX)

# replay style icon
top.add_patch(Circle((371, 820), 19.5, fill=False, edgecolor="#5b21e6", linewidth=2.8 * PX))
for xs, ys in [((361, 371, 384), (813, 818, 819)), ((378, 384, 378), (814, 819, 824)), ((361, 367), (828, 823))]:
    top.plot(xs, ys, color="#5b21e6", linewidth=2.8 * PX, solid_capstyle="round")

# flash icon with a notification dot
top.add_patch(Circle((1619, 820), 20, fill=False, edgecolor="#9c27b0", linewidth=2.4 * PX))
top.add_patch(Polygon([(1626, 811), (1611, 821), (1618, 821), (1613, 830), (1628, 817.5), (1620, 817.5)],
                      facecolor="#9c27b0", edgecolor="none"))
top.add_patch(Circle((1633, 806), 7, facecolor="white", edgecolor="none"))
top.add_patch(Circle((1633, 806), 5, facecolor="#f23645", edgecolor="none"))

# footer logo and word mark
logo = "#dcdcdc"
top.add_patch(Polygon([(20, 1278), (35, 1278), (35, 1297), (27, 1297), (27, 1286), (20, 1286)], facecolor=logo,
                      edgecolor="none"))
top.add_patch(Circle((42.3, 1282), 3.4, facecolor=logo, edgecolor="none"))
top.add_patch(Polygon([(48, 1278), (59, 1278), (52, 1297), (41, 1297)], facecolor=logo, edgecolor="none"))
top.text(67, 1291, "TradingView", color=logo, va="center", fontsize=25 * PX)
top.set_xlim(0, WIDTH)
top.set_ylim(HEIGHT, 0)

fig.savefig("out.png", dpi=100, facecolor=fig.get_facecolor())
